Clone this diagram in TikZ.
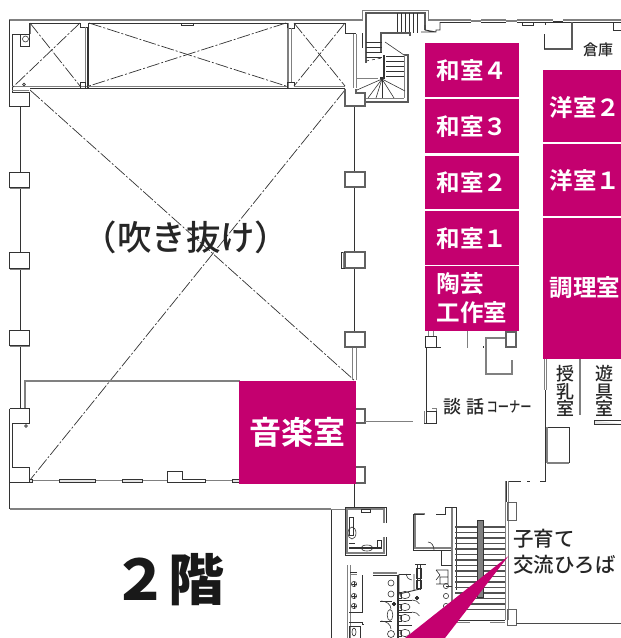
\documentclass[tikz,border=0pt]{standalone}
\usepackage{fontspec}
\setmainfont{Noto Sans CJK JP Medium}
\newfontfamily\jpb{Noto Sans CJK JP Bold}
\newfontfamily\jpk{Noto Sans CJK JP Black}
\usepackage{graphicx}
\definecolor{pk}{HTML}{C4006F}
\definecolor{dk}{HTML}{333333}
\definecolor{gy}{HTML}{808080}
\definecolor{lg}{HTML}{E4E4E4}
\tikzset{
 wl/.style={draw=dk,line width=0.9pt},
 gw/.style={draw=gy,line width=1pt},
 tw/.style={draw=gy,line width=2.2pt},
 thk/.style={draw=dk!50!gy,line width=2.6pt},
 fn/.style={draw=dk,line width=0.6pt},
 xd/.style={draw=dk,line width=0.7pt,dash pattern=on 13pt off 2pt on 2pt off 2pt},
 pkbox/.style={fill=pk,draw=none},
 lab/.style={text=white,font=\jpb\fontsize{23.5}{26}\selectfont,inner sep=0pt},
 txt/.style={text=black!85,inner sep=0pt}
}
\begin{document}
\begin{tikzpicture}[x=1pt,y=-1pt]
\useasboundingbox (0,0) rectangle (621,638);
% ---- north band
\draw[tw] (9,20) -- (363,20);
\draw[wl] (9.5,20) -- (9.5,106) -- (29.5,106) -- (29.5,92) -- (12,92) -- (12,34) -- (29.5,34) -- (29.5,23) -- (80,23) -- (80,27) -- (87,27) -- (87,88) -- (29.5,88);
\draw[gw] (12,86) -- (87,86) (30,34) -- (30,23) (12,90) -- (29,90);
\draw[wl] (20,34) rectangle (29.5,46);
\draw[fn] (25.5,39) circle (3);
\draw[fn] (24,84.5) circle (1.4);
\draw[wl] (80,88) -- (80,82) -- (85,82) -- (85,88);
\draw[wl] (88,88) -- (88,23) -- (287,23) -- (287,88) -- (88,88);
\draw[gw] (88,86) -- (287,86) (85,27) -- (85,82);
\draw[wl] (181,23) -- (181,25.5) -- (193,25.5) -- (193,23);
\draw[wl] (287,88) -- (345,88);
\draw[wl] (288,28) -- (294,28) -- (294,23) -- (345,23) -- (345,33) -- (356,33);
\draw[gw] (288,23) -- (288,88) (287,28) -- (287,82);
\draw[wl] (288,82) -- (294,82) -- (294,87);
\draw[gw] (294,86) -- (345,86) (291,28) -- (291,82);
% ---- X in shafts
\draw[xd] (30,23) -- (80,86);
\draw[xd] (80,23) -- (13,87);
\draw[xd] (89,23) -- (286,86);
\draw[xd] (286,23) -- (89,86);
\draw[xd] (294,23) -- (345,86);
\draw[xd] (345,23) -- (294,86);
% ---- big X
\draw[xd] (30,90) -- (354,380);
\draw[xd] (345,90) -- (30,480);
% ---- columns west
\draw[gw,draw=dk] (20,106) -- (20,172) (20,187) -- (20,252) (20,268) -- (20,330) (20,345) -- (20,408);
\foreach \ya/\yb in {172/187,252/268,330/345}{
 \draw[wl] (9.5,\ya) rectangle (29.5,\yb);
}
\draw[gw] (9.5,188) -- (29.5,188) (9.5,269) -- (29.5,269) (9.5,346) -- (29.5,346);
% ---- columns east
\draw[wl] (354.5,106) -- (354.5,172) (354.5,187) -- (354.5,252) (354.5,268) -- (354.5,332);
\draw[gw] (352.5,347) -- (352.5,380) (356,347) -- (356,380);
\foreach \ya/\yb in {172/187,252/268,332/347}{
 \draw[wl,draw=dk!40!gy,line width=1.2pt] (345,\ya) rectangle (365,\yb);
}
\draw[wl] (341,252) -- (341,268) -- (345,268) (341,252) -- (345,252);
\draw[gw] (343,252) -- (343,268);
\draw[wl,draw=dk!40!gy,line width=1.1pt] (356,409) -- (365,409) -- (365,423) -- (356,423);
\draw[wl,draw=dk!40!gy,line width=1.1pt] (356,467) -- (365,467) -- (365,483) -- (356,483);
\draw[gw,line width=1.3pt] (365,421.5) -- (413,421.5);
% ---- room over music room
\draw[tw] (25,408) -- (25,381) -- (240,381);
\draw[wl] (9.5,408.5) -- (29.5,408.5) -- (29.5,423) -- (12,423) -- (12,467.5) -- (29.5,467.5) -- (29.5,482) -- (9.5,482);
\draw[fn] (26,426) circle (1.4);
\draw[wl] (9.5,408.5) -- (9.5,509);
\draw[gw,line width=1.3pt] (9.5,509) -- (331,509);
\draw[gw,line width=1.3pt] (29.5,480.5) -- (240,480.5);
\foreach \xa/\xb in {59/95,122/142}{
 \draw[fn,fill=lg] (\xa,479) rectangle (\xb,482.5);
}
\draw[fn,fill=lg] (29.5,479) rectangle (32,482.5);
\draw[wl,fill=white] (167,482.5) -- (167,471) -- (182,471) -- (182,479) -- (205,479) -- (205,482.5) -- cycle;
\draw[fn,fill=lg] (232,479) rectangle (240,482.5);
% ---- stair NE
\draw[gw] (362.5,20) -- (362.5,10) -- (428,10) -- (428,20);
\draw[thk] (366,63) -- (366,13) -- (425,13) -- (425,30);
\foreach \x in {397,401,405,409,413,417}{ \draw[fn,line width=0.9pt] (\x,13) -- (\x,33); }
\draw[thk] (381,52) -- (381,33) -- (410,33) -- (410,36);
\foreach \y in {42,47,52,57}{ \draw[fn] (366,\y) -- (382,\y); }
\draw[fn] (385,42) -- (404,55);
\draw[wl,line width=1.2pt] (384,55) -- (384,78) -- (380,78);
\draw[fn,dashed] (366,61) -- (382,58);
\foreach \y in {56,61,66,71,76}{ \draw[fn] (386,\y) -- (405,\y); }
\draw[thk] (404,55) -- (408,55) -- (408,102) -- (366,102);
\draw[gw] (366,98) -- (404,98) (404,55) -- (404,98);
\draw[gw] (356,78) -- (378,78);
\foreach \xx/\yy in {357/90,368/98,376/98,382/98,394/98,405/91}{ \draw[fn] (382,79) -- (\xx,\yy); }
\draw[wl,draw=dk!40!gy,line width=1.2pt] (345,88.5) -- (345,106) -- (365,106) -- (365,93) -- (356,93) -- (356,88.5);
\draw[gw] (353,34) -- (353,88) (356,34) -- (356,88);
\draw[wl] (362,33) -- (362,48);
% ---- north east
\draw[gw,line width=1.4pt] (428,20) -- (471,20) (471,21) -- (481,21) (506,21) -- (517,21);
\draw[tw,line width=1.6pt] (481,20) -- (506,20) (517,20) -- (553,20) (563,20) -- (621,20);
\draw[wl] (440,22) -- (471,22) (481,22.5) -- (506,22.5) (517,22) -- (621,22);
\draw[wl] (425,25) -- (425,30) -- (436,32) (421,32) -- (436,32) -- (436,30) -- (440,30) -- (440,22);
\draw[wl] (553,21) -- (563,21);
\draw[wl] (522,22) -- (522,25) -- (533,25) -- (533,22);
\draw[thk,line width=1.5pt] (572,22) -- (572,49) -- (544,49);
\draw[wl] (544,34) -- (544,49) (545,23) -- (545,25);
\draw[wl] (613,22) -- (613,30) -- (621,30);
% ---- under workshop
\draw[wl,draw=dk] (426,347) -- (426,411);
\draw[wl] (425,336) rectangle (436,347);
\draw[wl] (425,347.5) -- (441,347.5);
\draw[gw] (428,331) -- (428,336) (433,331) -- (433,336);
\draw[gw] (467,331) -- (467,348);
\draw[fn] (483,346) -- (483,348);
\draw[gw,line width=1.5pt] (506,338) -- (486,338) -- (486,374) -- (512,374) -- (512,360);
\draw[wl,draw=dk!40!gy,line width=1.1pt] (506,332) rectangle (516,347);
\draw[wl] (426,411.5) rectangle (436,423);
\draw[gw] (424,411) -- (424,423) (432,408) -- (436,408) -- (436,411);
\draw[wl] (428,423) -- (424,423);
% ---- east corridor
\draw[gw] (544,359) -- (544,390) (546,359) -- (546,390);
\draw[wl] (545,390) -- (545,481) -- (540,481);
\draw[gw,line width=1.2pt] (580,359) -- (580,415);
\draw[fn,fill=lg] (594,420.5) -- (621,420.5) (621,424) -- (594,424) -- (594,420.5);
\draw[wl] (547,427) -- (569,427) -- (569,463);
\draw[gw,line width=1.3pt] (547,463) -- (569,463) (547,427) -- (547,463);
\draw[wl,dash pattern=on 12pt off 6pt] (509,481) -- (530,481);
% ---- east wall lobby
\draw[gw] (505,481) -- (505,620) (508,481) -- (508,620);
\draw[wl] (506.5,481) -- (506.5,502);
\draw[wl,draw=dk!40!gy] (507,502) rectangle (516,520);
\draw[wl,draw=dk!40!gy] (507,609) rectangle (516,625);
\draw[wl,draw=dk!70!gy] (516,623) -- (621,623);
% ---- south core
\draw[wl] (331,509) -- (331,638);
\draw[gw] (330,509) -- (345,509);
\draw[wl] (354.5,484) -- (354.5,507);
% WC
\draw[wl] (386,523) -- (386,507) -- (345,507) -- (345,555) -- (386,555) -- (386,537);
\draw[gw,line width=1.2pt] (384,523) -- (384,509) -- (347,509) -- (347,553) -- (384,553) -- (384,537);
\draw[fn] (361,509) rectangle (370,512);
\draw[fn] (349,517) rectangle (353,535);
\draw[fn] (352,533) ellipse (4 and 6);
\draw[wl,line width=2pt] (349,548) -- (381,548);
\draw[fn] (367,548) ellipse (6 and 3);
\draw[wl] (377,540) rectangle (381,548);
\draw[fn] (349,543) -- (355,543);
% corridor
\draw[gw] (347,565) -- (347,638) (350,565) -- (350,638);
\draw[wl] (350,572) -- (357,572);
\draw[gw] (350,574) -- (357,574);
\draw[wl] (362,575) -- (362,612) -- (349,612);
\foreach \y in {584,596,606}{ \draw[fn] (354,\y) circle (2.6); \draw[fn] (351.5,\y) -- (356.5,\y) (354,\y-2.5) -- (354,\y+2.5); }
\draw[wl] (349,622) -- (362,622) -- (362,624) -- (364,624);
\draw[fn] (354,632) ellipse (2 and 4);
\draw[fn] (349,626) rectangle (360,638);
% toilets block
\draw[gw,line width=1.2pt] (373,573) -- (397,573);
\draw[wl] (373,575) -- (397,575) -- (397,638);
\draw[wl] (398.5,575) -- (398.5,638);
\foreach \y in {583,594}{ \draw[fn] (391,\y) circle (3); }
\foreach \y in {595,607,618,633}{ \draw[fn] (405,\y) ellipse (5 and 3.6); \draw[fn] (398.5,\y-3) rectangle (401,\y+3); }
\foreach \y in {600,612,625}{ \draw[fn] (398.5,\y) -- (412,\y); }
\draw[fn] (380,601) -- (392,601) (380,621) -- (392,621);
\draw[fn] (381,601) arc (-90:0:10 and 8);
\draw[fn] (381,621) arc (-90:0:10 and 8);
\draw[fn] (390,615) ellipse (2.8 and 5.5);
\draw[fn] (391,634) circle (3.5);
\draw[fill=dk] (394,604) circle (1.8);
\draw[fill=dk] (417,598) circle (1.8);
\draw[fn] (412,600) arc (-90:-20:8 and 6);
\draw[fn] (412,612) arc (-90:-20:8 and 6);
% duct & small room
\draw[wl] (399,574) -- (411,574);
\draw[fn] (406,574) arc (180:100:7 and 6);
\draw[fn] (415,564) -- (426,564) (417,564) -- (417,590) (420,564) -- (420,590);
\draw[fn] (416,568) rectangle (421,578);
\draw[fn] (416,580) rectangle (421,588);
\draw[wl] (399,574) -- (399,594) -- (420,589) (414,574)-- (414,590);
\draw[gw,line width=1.2pt] (425,514) -- (415,514) -- (415,548) -- (452,548);
\draw[wl] (413,514) -- (424,514) (413,514) -- (413,550) -- (452,550);
\draw[wl] (436,514) -- (445,514) -- (445,507) -- (456,507);
\draw[wl] (456,507) -- (456,590);
\draw[gw,line width=1.2pt] (452,508) -- (452,617);
\draw[fn] (434,550) arc (0:-90:6 and 8);
\draw[wl] (441,550) -- (441,565) -- (452,565);
\draw[fn] (436,570) -- (448,570) -- (448,577) (436,570) -- (440,575) -- (436,580) (436,584) -- (448,584) -- (448,577) -- (440,577) -- (440,584);
\draw[fn] (446,586) -- (452,586);
\foreach \y in {586,596,606}{ \draw[fn] (446,\y) circle (2.6); }
% stair
\foreach \y in {527,532.5,538,543.5,549,554.5,560,565.5,571,576.5,582,587.5,593,598.5,604,609.5}{
  \draw[draw=dk!60!gy,line width=1.2pt] (455,\y) -- (505,\y);
}
\draw[fill=gy,draw=dk,line width=0.5pt] (477,520) rectangle (483,597);
\draw[wl] (456,620) -- (505,620);
\draw[gw] (456,622) -- (470,622) (490,622) -- (505,622);
% ---- pink blocks
\fill[pk] (508.5,556) -- (405,638) -- (445,638) -- cycle;
\node[pkbox,minimum width=117pt,minimum height=103pt,anchor=north west,inner sep=0pt] (ongaku) at (239,381) {};
\node[pkbox,minimum width=94pt,minimum height=54pt,anchor=north west,inner sep=0pt] (wa4) at (425,43) {};
\node[pkbox,minimum width=94pt,minimum height=54pt,anchor=north west,inner sep=0pt] (wa3) at (425,99) {};
\node[pkbox,minimum width=94pt,minimum height=53pt,anchor=north west,inner sep=0pt] (wa2) at (425,156) {};
\node[pkbox,minimum width=94pt,minimum height=54pt,anchor=north west,inner sep=0pt] (wa1) at (425,211) {};
\node[pkbox,minimum width=94pt,minimum height=65pt,anchor=north west,inner sep=0pt] (tou) at (425,266) {};
\node[pkbox,minimum width=78pt,minimum height=72pt,anchor=north west,inner sep=0pt] (you2) at (543,70) {};
\node[pkbox,minimum width=78pt,minimum height=72pt,anchor=north west,inner sep=0pt] (you1) at (543,144) {};
\node[pkbox,minimum width=78pt,minimum height=141pt,anchor=north west,inner sep=0pt] (chou) at (543,218) {};
% ---- labels
\node[lab,font=\jpb\fontsize{32}{34}\selectfont] (t0) at (297,432) {音楽室};
\node[lab] (t1) at (472,71) {和室４};
\node[lab] (t2) at (472,127) {和室３};
\node[lab] (t3) at (472,183) {和室２};
\node[lab] (t4) at (472,239) {和室１};
\node[lab] (t5) at (460,284) {陶芸};
\node[lab] (t6) at (472,313) {工作室};
\node[lab] (t7) at (585,108) {洋室２};
\node[lab] (t8) at (585,181) {洋室１};
\node[lab] (t9) at (585,288) {調理室};
\node[txt,font=\fontsize{34.5}{36}\selectfont] (void) at (186,237) {（吹き抜け）};
\node[txt,font=\jpk\fontsize{56}{58}\selectfont,text=black!90] (fl) at (168,580) {２階};
\node[txt,font=\fontsize{15}{16}\selectfont] (sk) at (598,50) {倉庫};
\node[txt,font=\fontsize{18}{20}\selectfont,align=center] (ju) at (565,391) {授\\[-2.2pt]乳\\[-2.2pt]室};
\node[txt,font=\fontsize{18}{20}\selectfont,align=center] (yu) at (604,391) {遊\\[-2.2pt]具\\[-2.2pt]室};
\node[txt,font=\fontsize{18}{20}\selectfont] (da) at (452,407) {談};
\node[txt,font=\fontsize{18}{20}\selectfont] (wa) at (475,407) {話};
\node[txt,font=\fontsize{15}{18}\selectfont] (co) at (509,407) {\scalebox{0.75}[1]{コーナー}};
\node[txt,font=\fontsize{20.5}{21}\selectfont,anchor=west] (ko1) at (513,539) {子育て};
\node[txt,font=\fontsize{20.5}{21}\selectfont,anchor=west] (ko2) at (513,565) {交流ひろば};
\end{tikzpicture}
\end{document}
